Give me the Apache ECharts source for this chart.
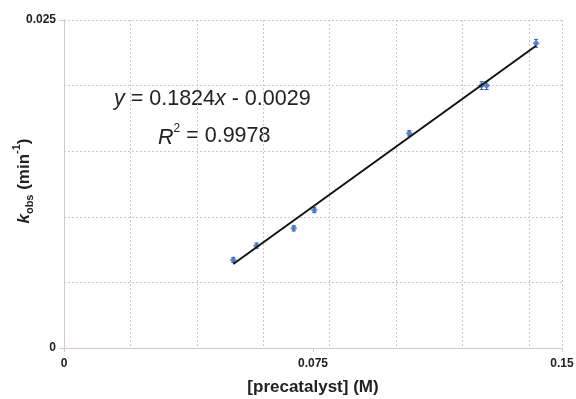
<!DOCTYPE html>
<html>
<head>
<meta charset="utf-8">
<script src="https://cdn.jsdelivr.net/npm/echarts@6/dist/echarts.min.js"></script>
<style>html,body{margin:0;padding:0;background:#fff;}#c{width:576px;height:399px;}</style>
</head>
<body>
<div id="c"></div>
<script>
// Data
var xData = [0.0510, 0.0580, 0.0692, 0.0754, 0.1040, 0.1258, 0.1273, 0.1422];
var yData = [0.00671, 0.00780, 0.00912, 0.01052, 0.01636, 0.0200, 0.0200, 0.02322];
var yErr = [0.0002, 0.0002, 0.0002, 0.0002, 0.0002, 0.0003, 0.0003, 0.0003];
var fitSlope = 0.1824;
var fitIntercept = -0.0029;
var xTickLabels = [0, 0.075, 0.15];
var yTickLabels = [0, 0.025];

var pts = xData.map(function (x, i) { return [x, yData[i]]; });
var errPts = xData.map(function (x, i) { return [x, yData[i], yErr[i]]; });
var xMin = Math.min.apply(null, xData), xMax = Math.max.apply(null, xData);
var fitLine = [[xMin, fitSlope * xMin + fitIntercept], [xMax, fitSlope * xMax + fitIntercept]];

var chart = echarts.init(document.getElementById('c'));
var font = 'Liberation Sans, Arial, Helvetica, sans-serif';
var axisCol = '#d8c9c6';
var gridCol = '#c9c9c9';

chart.setOption({
  animation: false,
  grid: { left: 64, right: 14, top: 20, bottom: 51, containLabel: false, outerBoundsMode: 'none' },
  xAxis: [{
    type: 'value', min: 0, max: 0.15, interval: 0.075,
    axisLine: { show: true, lineStyle: { color: axisCol, width: 1 } },
    axisTick: { show: true, length: 4, lineStyle: { color: axisCol } },
    splitLine: { show: false },
    axisLabel: { color: '#222', fontFamily: font, fontWeight: 'bold', fontSize: 12, margin: 10,
      formatter: function (v) { return xTickLabels.indexOf(+v.toFixed(3)) >= 0 ? String(+v.toFixed(3)) : ''; } },
    name: '[precatalyst] (M)', nameLocation: 'middle', nameGap: 31,
    nameTextStyle: { color: '#222', fontFamily: font, fontWeight: 'bold', fontSize: 17 }
  }, {
    type: 'value', min: 0, max: 0.15, interval: 0.02, show: true, position: 'top',
    axisLine: { show: true, lineStyle: { color: axisCol } }, axisTick: { show: false }, axisLabel: { show: false },
    splitLine: { show: true, lineStyle: { color: gridCol, type: [2, 2], width: 1 } }
  }],
  yAxis: [{
    type: 'value', min: 0, max: 0.025, interval: 0.025,
    axisLine: { show: true, lineStyle: { color: axisCol, width: 1 } },
    axisTick: { show: true, length: 5, lineStyle: { color: axisCol } },
    splitLine: { show: false },
    axisLabel: { color: '#222', fontFamily: font, fontWeight: 'bold', fontSize: 12, margin: 8,
      formatter: function (v) { return yTickLabels.indexOf(+v.toFixed(3)) >= 0 ? String(+v.toFixed(3)) : ''; } }
  }, {
    type: 'value', min: 0, max: 0.025, interval: 0.005, position: 'right',
    axisLine: { show: true, lineStyle: { color: axisCol } }, axisTick: { show: false }, axisLabel: { show: false },
    splitLine: { show: true, lineStyle: { color: gridCol, type: [2, 2], width: 1 } }
  }],
  series: [{
    type: 'custom', xAxisIndex: 0, yAxisIndex: 0, data: errPts, z: 3,
    renderItem: function (params, api) {
      var x = api.value(0), y = api.value(1), e = api.value(2);
      var p1 = api.coord([x, y - e]), p2 = api.coord([x, y + e]);
      return { type: 'group', children: [
        { type: 'line', shape: { x1: p1[0], y1: p1[1], x2: p2[0], y2: p2[1] }, style: { stroke: '#2c5fb0', lineWidth: 1 } },
        { type: 'line', shape: { x1: p1[0] - 2, y1: p1[1], x2: p1[0] + 2, y2: p1[1] }, style: { stroke: '#2c5fb0', lineWidth: 1 } },
        { type: 'line', shape: { x1: p2[0] - 2, y1: p2[1], x2: p2[0] + 2, y2: p2[1] }, style: { stroke: '#2c5fb0', lineWidth: 1 } }
      ] };
    }
  }, {
    type: 'scatter', xAxisIndex: 0, yAxisIndex: 0, data: pts, symbol: 'diamond', symbolSize: 7, z: 4,
    itemStyle: { color: '#3a6fc8' }
  }, {
    type: 'line', xAxisIndex: 0, yAxisIndex: 0, data: fitLine, symbol: 'none', z: 5,
    lineStyle: { color: '#111', width: 2 }
  }],
  graphic: [{
    type: 'text', x: 22, y: 181, rotation: Math.PI / 2,
    style: {
      text: '{k|k}{sub|obs}{t| (min}{sup|-1}{t|)}', align: 'center', verticalAlign: 'middle',
      fontFamily: font, fontWeight: 'bold', fontSize: 17, fill: '#222',
      rich: {
        k: { fontFamily: font, fontWeight: 'bold', fontStyle: 'italic', fontSize: 17, fill: '#222', lineHeight: 22, verticalAlign: 'bottom' },
        sub: { fontFamily: font, fontWeight: 'bold', fontSize: 11, fill: '#222', lineHeight: 22, verticalAlign: 'bottom', padding: [0, 0, -2, 0] },
        t: { fontFamily: font, fontWeight: 'bold', fontSize: 17, fill: '#222', lineHeight: 22, verticalAlign: 'bottom' },
        sup: { fontFamily: font, fontWeight: 'bold', fontSize: 11, fill: '#222', lineHeight: 22, verticalAlign: 'top' }
      }
    }
  }, {
    type: 'text', left: 114, top: 88,
    style: {
      text: '{i|y} = 0.1824{i|x} - 0.0029', fontFamily: font, fontSize: 21.5, fill: '#222',
      rich: { i: { fontFamily: font, fontStyle: 'italic', fontSize: 21.5, fill: '#222' } }
    }
  }, {
    type: 'text', left: 158, top: 123,
    style: {
      text: '{i|R}{s|2} = 0.9978', fontFamily: font, fontSize: 21.5, fill: '#222',
      rich: { i: { fontFamily: font, fontStyle: 'italic', fontSize: 21.5, fill: '#222', lineHeight: 26, verticalAlign: 'bottom' },
              s: { fontFamily: font, fontSize: 12, fill: '#222', lineHeight: 26, verticalAlign: 'top' } }
    }
  }]
});
</script>
</body>
</html>
